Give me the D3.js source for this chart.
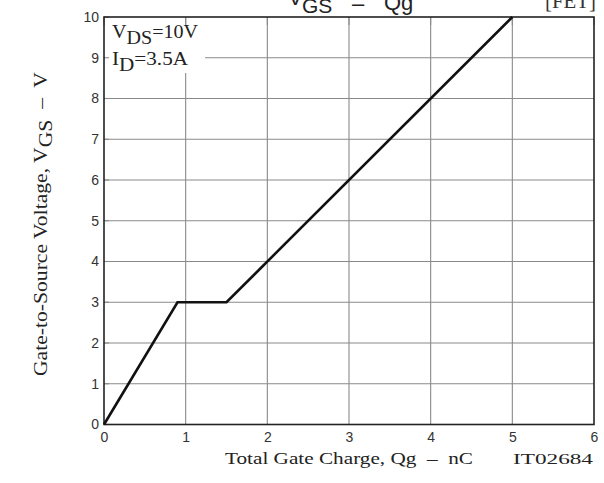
<!DOCTYPE html>
<html>
<head>
<meta charset="utf-8">
<script src="https://cdn.jsdelivr.net/npm/d3@7/dist/d3.min.js"></script>
<style>
  html, body { margin: 0; padding: 0; background: #fff; }
  svg { display: block; }
  text { white-space: pre; }
</style>
</head>
<body>
<script>
// Gate charge curve: VGS versus total gate charge
const chargeNC = [0, 0.9, 1.5, 5];
const vgsVolts = [0, 3, 3, 10];
const xTicks = [0, 1, 2, 3, 4, 5, 6];
const yTicks = [0, 1, 2, 3, 4, 5, 6, 7, 8, 9, 10];

const W = 604, H = 483;
const plot = { left: 104, right: 594, top: 17, bottom: 424.5 };

const svg = d3.select("body").append("svg")
  .attr("width", W).attr("height", H);

const x = d3.scaleLinear().domain([0, 6]).range([plot.left, plot.right]);
const y = d3.scaleLinear().domain([0, 10]).range([plot.bottom, plot.top]);

const sans = "Liberation Sans, Arial, sans-serif";
const serif = "Liberation Serif, Times New Roman, serif";

// grid
const grid = svg.append("g").attr("stroke", "#8a8a8a").attr("stroke-width", 1.1);
grid.selectAll("line.v").data(xTicks.slice(1, -1)).join("line")
  .attr("x1", d => x(d)).attr("x2", d => x(d))
  .attr("y1", plot.top).attr("y2", plot.bottom);
grid.selectAll("line.h").data(yTicks.slice(1, -1)).join("line")
  .attr("x1", plot.left).attr("x2", plot.right)
  .attr("y1", d => y(d)).attr("y2", d => y(d));

// backing for the test-condition note
svg.append("rect")
  .attr("x", plot.left + 1).attr("y", 25)
  .attr("width", 100).attr("height", 48)
  .attr("fill", "#fff");

// short inner ticks that stay visible behind the note
const tk = svg.append("g").attr("stroke", "#8a8a8a").attr("stroke-width", 1.1);
tk.selectAll("line.l").data(yTicks).join("line")
  .attr("x1", plot.left).attr("x2", plot.left + 5)
  .attr("y1", d => y(d)).attr("y2", d => y(d));
tk.selectAll("line.t").data(xTicks).join("line")
  .attr("x1", d => x(d)).attr("x2", d => x(d))
  .attr("y1", plot.top).attr("y2", plot.top + 8);

// frame
svg.append("rect")
  .attr("x", plot.left).attr("y", plot.top)
  .attr("width", plot.right - plot.left).attr("height", plot.bottom - plot.top)
  .attr("fill", "none").attr("stroke", "#222").attr("stroke-width", 1.6);

// axes labels via d3 axes, tick lines hidden
const xAxis = svg.append("g")
  .attr("transform", `translate(0,${plot.bottom})`)
  .call(d3.axisBottom(x).tickValues(xTicks).tickSize(0).tickPadding(8).tickFormat(d3.format("d")));
const yAxis = svg.append("g")
  .attr("transform", `translate(${plot.left},0)`)
  .call(d3.axisLeft(y).tickValues(yTicks).tickSize(0).tickPadding(5).tickFormat(d3.format("d")));
[xAxis, yAxis].forEach(a => {
  a.select(".domain").remove();
  a.selectAll("text").attr("font-family", sans).attr("font-size", 14).attr("fill", "#333");
});

// curve
const line = d3.line().x(d => x(d[0])).y(d => y(d[1]));
svg.append("path")
  .datum(d3.zip(chargeNC, vgsVolts))
  .attr("d", line)
  .attr("fill", "none").attr("stroke", "#111")
  .attr("stroke-width", 2.6).attr("stroke-linejoin", "miter");

// test conditions (wide serif lettering)
const note = svg.append("g").attr("font-family", serif).attr("fill", "#222");
const n1 = note.append("text").attr("x", 112).attr("y", 37.5).attr("font-size", 18.5)
  .attr("textLength", 86).attr("lengthAdjust", "spacingAndGlyphs");
n1.append("tspan").text("V");
n1.append("tspan").attr("dy", 6).text("DS");
n1.append("tspan").attr("dy", -6).text("=10V");
const n2 = note.append("text").attr("x", 112).attr("y", 64.5).attr("font-size", 18.5)
  .attr("textLength", 76).attr("lengthAdjust", "spacingAndGlyphs");
n2.append("tspan").text("I");
n2.append("tspan").attr("dy", 6).text("D");
n2.append("tspan").attr("dy", -6).text("=3.5A");

// title
const t = svg.append("g").attr("font-family", sans).attr("fill", "#222");
t.append("text").attr("x", 288).attr("y", 5).attr("font-size", 22).text("V");
t.append("text").attr("x", 302).attr("y", 13).attr("font-size", 21).text("GS");
t.append("text").attr("x", 352).attr("y", 11).attr("font-size", 22).text("–");
t.append("text").attr("x", 384).attr("y", 10).attr("font-size", 22).text("Qg");

svg.append("text").attr("x", 545).attr("y", 8)
  .attr("textLength", 51).attr("lengthAdjust", "spacingAndGlyphs")
  .attr("font-family", serif).attr("font-size", 20).attr("fill", "#333").text("[FET]");

// axis titles
svg.append("text").attr("x", 225).attr("y", 463.5)
  .attr("textLength", 248).attr("lengthAdjust", "spacingAndGlyphs")
  .attr("font-family", serif).attr("font-size", 17).attr("fill", "#222")
  .text("Total Gate Charge, Qg  –  nC");

svg.append("text").attr("x", 513).attr("y", 463.5)
  .attr("textLength", 80).attr("lengthAdjust", "spacingAndGlyphs")
  .attr("font-family", serif).attr("font-size", 15).attr("fill", "#222").text("IT02684");

const yt = svg.append("text")
  .attr("transform", "translate(47,376) rotate(-90)")
  .attr("textLength", 304).attr("lengthAdjust", "spacingAndGlyphs")
  .attr("font-family", serif).attr("font-size", 18.5).attr("fill", "#222");
yt.append("tspan").text("Gate-to-Source Voltage, V");
yt.append("tspan").attr("dy", 5).text("GS");
yt.append("tspan").attr("dy", -5).text("  –  V");
</script>
</body>
</html>
